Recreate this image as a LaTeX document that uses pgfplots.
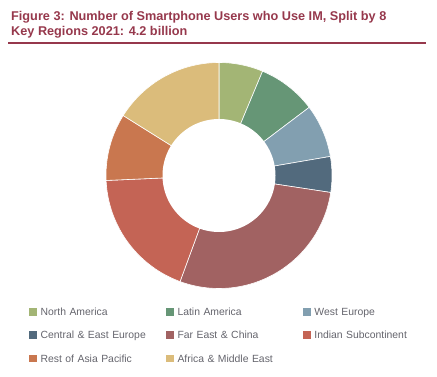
\documentclass[border=0pt]{standalone}
\usepackage{fontspec}
\setmainfont{Liberation Sans}
\usepackage{pgfplots}
\usepackage{pgfplotstable}
\pgfplotsset{compat=1.18}
\definecolor{titlecol}{RGB}{150,56,76}
\definecolor{legendgray}{RGB}{100,100,108}
\definecolor{col0}{RGB}{163,181,117}
\definecolor{col1}{RGB}{102,150,118}
\definecolor{col2}{RGB}{130,159,176}
\definecolor{col3}{RGB}{82,106,125}
\definecolor{col4}{RGB}{161,98,98}
\definecolor{col5}{RGB}{196,100,85}
\definecolor{col6}{RGB}{201,119,79}
\definecolor{col7}{RGB}{219,188,123}
\pgfplotstableread{
pct
6.3
8.4
7.6
5.1
28.2
18.7
9.6
16.1
}\sharetable
\begin{document}
\begin{tikzpicture}[x=1pt,y=1pt]
\path[use as bounding box] (0,0) rectangle (437,-377);
\node[anchor=base west, inner sep=0pt, text=titlecol, font=\bfseries\fontsize{12.7}{15}\selectfont] at (11,-20.5) {Figure 3: Number of Smartphone Users who Use IM, Split by 8};
\node[anchor=base west, inner sep=0pt, text=titlecol, font=\bfseries\fontsize{12.7}{15}\selectfont] at (11,-35.3) {Key Regions 2021: 4.2 billion};
\draw[titlecol, line width=2pt] (8,-43.5) -- (426,-43.5);
\begin{axis}[
  at={(219pt,-175.5pt)}, anchor=center,
  scale only axis, width=226pt, height=226pt,
  xmin=-1, xmax=1, ymin=-1, ymax=1,
  hide axis,
  legend columns=3,
  legend entries={North America, Latin America, West Europe, Central \& East Europe, Far East \& China, Indian Subcontinent, Rest of Asia Pacific, Africa \& Middle East},
  legend image code/.code={\fill[#1] (0pt,-0.6pt) rectangle (8.7pt,8.1pt);},
  legend style={at={(axis description cs:-0.3451,-0.081)}, anchor=north west,
    draw=none, fill=none, inner sep=0pt, outer sep=0pt,
    font=\fontsize{10.4}{12}\selectfont, text=legendgray,
    nodes={inner sep=0pt, text width=124.3pt, align=left, anchor=base west, text height=8pt, text depth=2.5pt},
    row sep=12.5pt,
    /tikz/every odd column/.append style={column sep=3.3pt}},
]
\def\cum{0}
\pgfplotsforeachungrouped \i in {0,...,7}{%
  \pgfplotstablegetelem{\i}{pct}\of\sharetable
  \pgfmathsetmacro{\a}{\cum*3.6}%
  \pgfmathsetmacro{\b}{(\cum+\pgfplotsretval)*3.6}%
  \pgfmathsetmacro{\newcum}{\cum+\pgfplotsretval}%
  \global\let\cum\newcum
  \edef\cmd{\noexpand\addplot[fill=col\i, draw=white, line width=0.6pt, domain=\a:\b, samples=60, variable=\noexpand\t] ({cos(90-\noexpand\t)},{sin(90-\noexpand\t)}) -- (axis cs:0,0) -- cycle;}%
  \cmd
}
\addplot[forget plot, fill=white, draw=none, domain=0:360, samples=120] ({0.5*cos(x)},{0.5*sin(x)}) -- cycle;
\end{axis}
\end{tikzpicture}
\end{document}
